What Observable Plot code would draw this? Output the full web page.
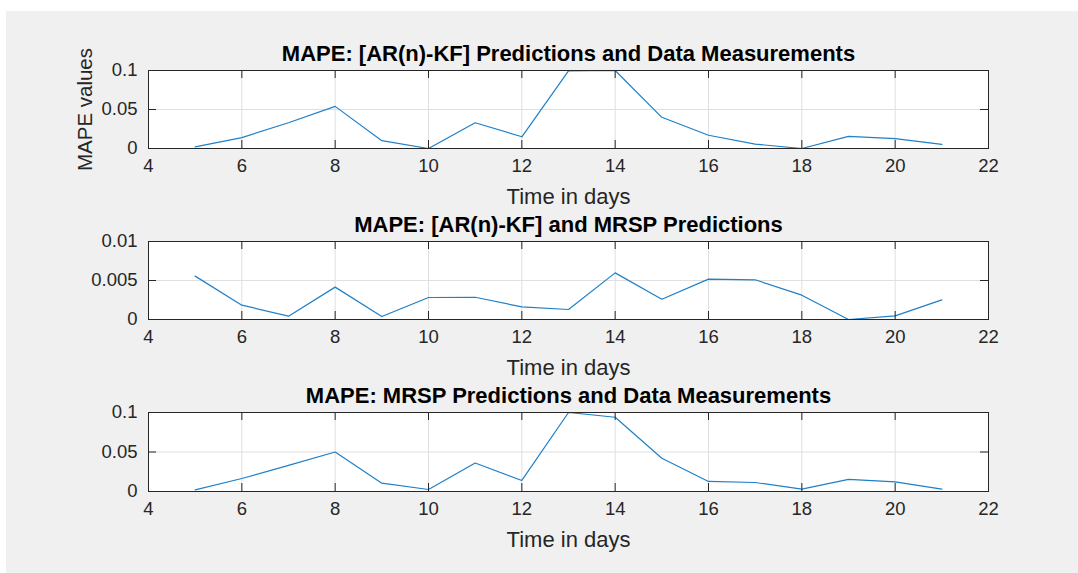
<!DOCTYPE html>
<html>
<head>
<meta charset="utf-8">
<script src="https://cdn.jsdelivr.net/npm/d3@7"></script>
<script src="https://cdn.jsdelivr.net/npm/@observablehq/plot@0.6"></script>
<style>
html, body { margin: 0; padding: 0; background: #ffffff; width: 1078px; height: 573px; overflow: hidden; }
#bg { position: absolute; left: 6px; top: 11px; width: 1072px; height: 562px; background: #f0f0f0; }
.sub { position: absolute; left: 0; }
</style>
</head>
<body>
<div id="bg"></div>
<div id="charts"></div>
<script>
// ---- data ----
const days = [5, 6, 7, 8, 9, 10, 11, 12, 13, 14, 15, 16, 17, 18, 19, 20, 21];
const mapeArKfVsData = [0.002, 0.014, 0.033, 0.054, 0.010, 0.000, 0.033, 0.015, 0.0995, 0.1, 0.040, 0.017, 0.0056, 0.000, 0.0156, 0.0126, 0.0052];
const mapeArKfVsMrsp = [0.00556, 0.00184, 0.00043, 0.00415, 0.00038, 0.00282, 0.00285, 0.00162, 0.00128, 0.00598, 0.0026, 0.00517, 0.00509, 0.00312, 0.0, 0.00047, 0.00252];
const mapeMrspVsData = [0.002, 0.0165, 0.033, 0.050, 0.0106, 0.0025, 0.036, 0.014, 0.1, 0.094, 0.042, 0.0127, 0.0114, 0.003, 0.0153, 0.0123, 0.003];

const xTicks = [4, 6, 8, 10, 12, 14, 16, 18, 20, 22];
const yTicksLarge = [0, 0.05, 0.1];
const yTickLabelsLarge = ["0", "0.05", "0.1"];
const yTicksSmall = [0, 0.005, 0.01];
const yTickLabelsSmall = ["0", "0.005", "0.01"];

const titles = [
  "MAPE: [AR(n)-KF] Predictions and Data Measurements",
  "MAPE: [AR(n)-KF] and MRSP Predictions",
  "MAPE: MRSP Predictions and Data Measurements"
];
const xLabel = "Time in days";
const yLabel = "MAPE values";

// ---- layout / style ----
const W = 1078, ML = 148, MR = 90, MT = 34, MB = 62;
const innerW = W - ML - MR;
const FONT = "'Liberation Sans', Arial, Helvetica, sans-serif";
const AXIS_COLOR = "#262626";
const GRID_COLOR = "#dfdfdf";
const LINE_COLOR = "#1f80c8";
const TICK_LEN = 8;

function subplot({values, yTicks, yLabels, title, showYLabel, axesTop, innerH}) {
  const rows = days.map((d, i) => ({day: d, v: values[i]}));
  const labelMap = new Map(yTicks.map((t, i) => [t, yLabels[i]]));
  const yDomain = [yTicks[0], yTicks[yTicks.length - 1]];
  const marks = [
    Plot.frame({fill: "white", stroke: null}),
    Plot.gridX(xTicks, {x: d => d, stroke: GRID_COLOR, strokeOpacity: 1}),
    Plot.gridY(yTicks, {y: d => d, stroke: GRID_COLOR, strokeOpacity: 1}),
    Plot.line(rows, {x: "day", y: "v", stroke: LINE_COLOR, strokeWidth: 1.2, clip: true}),
    Plot.tickX(xTicks, {x: d => d, stroke: AXIS_COLOR, insetTop: innerH - TICK_LEN}),
    Plot.tickX(xTicks, {x: d => d, stroke: AXIS_COLOR, insetBottom: innerH - TICK_LEN}),
    Plot.tickY(yTicks, {y: d => d, stroke: AXIS_COLOR, insetRight: innerW - TICK_LEN}),
    Plot.tickY(yTicks, {y: d => d, stroke: AXIS_COLOR, insetLeft: innerW - TICK_LEN}),
    Plot.frame({stroke: AXIS_COLOR, strokeWidth: 1}),
    Plot.axisX({ticks: xTicks, tickSize: 0, tickPadding: 10, label: null, fill: AXIS_COLOR, fontSize: 18.5, tickFormat: d => String(d)}),
    Plot.axisY({ticks: yTicks, tickSize: 0, tickPadding: 11, label: null, fill: AXIS_COLOR, fontSize: 18.5, tickFormat: d => labelMap.get(d)}),
    Plot.text([title], {text: d => d, frameAnchor: "top", dy: -10, lineAnchor: "bottom", fontWeight: "bold", fontSize: 22, fill: "#000000"}),
    Plot.text([xLabel], {text: d => d, frameAnchor: "bottom", dy: 55, lineAnchor: "bottom", fontSize: 22, fill: AXIS_COLOR})
  ];
  if (showYLabel) {
    marks.push(Plot.text([yLabel], {text: d => d, frameAnchor: "left", textAnchor: "middle", dx: -57, rotate: -90, lineAnchor: "bottom", fontSize: 20.5, fill: AXIS_COLOR}));
  }
  const svg = Plot.plot({
    width: W,
    height: MT + innerH + MB,
    marginLeft: ML,
    marginRight: MR,
    marginTop: MT,
    marginBottom: MB,
    x: {domain: [xTicks[0], xTicks[xTicks.length - 1]], label: null},
    y: {domain: yDomain, label: null},
    style: {background: "transparent", fontFamily: FONT, fontSize: "18.5px", overflow: "visible"},
    marks
  });
  svg.classList.add("sub");
  svg.style.top = (axesTop - MT) + "px";
  svg.style.position = "absolute";
  svg.style.left = "0px";
  svg.style.maxWidth = "none";
  return svg;
}

const host = document.getElementById("charts");
host.appendChild(subplot({values: mapeArKfVsData, yTicks: yTicksLarge, yLabels: yTickLabelsLarge, title: titles[0], showYLabel: true, axesTop: 70, innerH: 78}));
host.appendChild(subplot({values: mapeArKfVsMrsp, yTicks: yTicksSmall, yLabels: yTickLabelsSmall, title: titles[1], showYLabel: false, axesTop: 241, innerH: 78}));
host.appendChild(subplot({values: mapeMrspVsData, yTicks: yTicksLarge, yLabels: yTickLabelsLarge, title: titles[2], showYLabel: false, axesTop: 412, innerH: 79}));
</script>
</body>
</html>
